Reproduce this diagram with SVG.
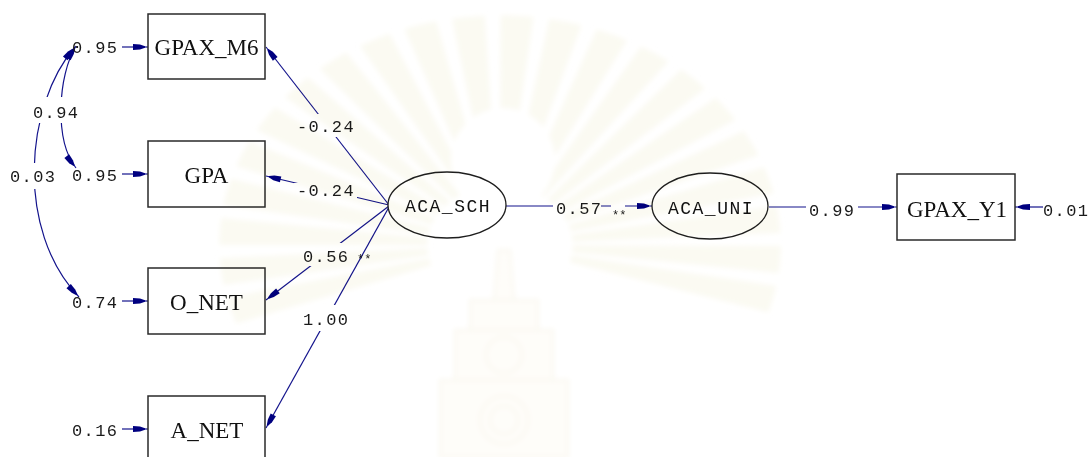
<svg xmlns="http://www.w3.org/2000/svg" width="1091" height="457" viewBox="0 0 1091 457">
  <style>
    .box { fill: #ffffff; stroke: #2a2a2a; stroke-width: 1.5; }
    .lat { fill: #ffffff; stroke: #1e1e1e; stroke-width: 1.3; }
    .obs-t { font-family: "Liberation Serif", "Times New Roman", serif; font-size: 23px; fill: #111111; text-anchor: middle; }
    .lat-t { font-family: "Liberation Mono", "Courier New", monospace; font-size: 18px; letter-spacing: 1.5px; fill: #111111; text-anchor: middle; }
    .num { font-family: "Liberation Mono", "Courier New", monospace; font-size: 17px; letter-spacing: 1.4px; fill: #1a1a1a; }
    .star { font-family: "Liberation Mono", "Courier New", monospace; font-size: 12px; fill: #1a1a1a; }
    .edge { fill: none; stroke: #13138c; stroke-width: 1.2; marker-end: url(#ah); }
    .cov { fill: none; stroke: #13138c; stroke-width: 1.2; marker-start: url(#ah); marker-end: url(#ah); }
    .bg { fill: #ffffff; }
  </style>
  <defs>
    <marker id="ah" viewBox="-16 -4 17 8" markerWidth="17" markerHeight="8" refX="0" refY="0" orient="auto-start-reverse" markerUnits="userSpaceOnUse">
      <path d="M-15,-3 L-8,-2.4 L-3,-0.7 L-3,0.7 L-8,2.4 L-15,3 Z" fill="#000080"/>
    </marker>
    <filter id="soft" filterUnits="userSpaceOnUse" x="0" y="0" width="1091" height="457">
      <feGaussianBlur stdDeviation="2.5"/>
    </filter>
  </defs>

  <rect x="0" y="0" width="1091" height="457" fill="#ffffff"/>

  <!-- connectors -->
  <g id="connectors">
    <!-- error terms -->
    <line class="edge" x1="122" y1="47" x2="148" y2="47"/>
    <line class="edge" x1="122" y1="174" x2="148" y2="174"/>
    <line class="edge" x1="122" y1="301" x2="148" y2="301"/>
    <line class="edge" x1="122" y1="429" x2="148" y2="429"/>
    <line class="edge" x1="1043" y1="207" x2="1015" y2="207"/>
    <!-- error covariances -->
    <path class="cov" d="M76,46 C58,75 54,140 76,168"/>
    <path class="cov" d="M75,47 C25,105 15,230 79,297"/>
    <!-- loadings of ACA_SCH -->
    <line class="edge" x1="389" y1="205" x2="266" y2="47"/>
    <line class="edge" x1="389" y1="205" x2="266" y2="176"/>
    <line class="edge" x1="389" y1="206" x2="266" y2="300"/>
    <line class="edge" x1="389" y1="207" x2="266" y2="428"/>
    <!-- structural paths -->
    <line class="edge" x1="506" y1="206" x2="652" y2="206"/>
    <line class="edge" x1="769" y1="207" x2="897" y2="207"/>

    <!-- path coefficients -->
    <rect class="bg" x="294" y="114" width="62" height="23"/>
    <text class="num" x="297" y="132">-0.24</text>
    <rect class="bg" x="294" y="183" width="63" height="15"/>
    <text class="num" x="297" y="196">-0.24</text>
    <rect class="bg" x="302" y="243" width="50" height="23"/>
    <text class="num" x="303" y="262">0.56</text>
    <text class="star" x="357" y="263">**</text>
    <rect class="bg" x="302" y="305" width="50" height="26"/>
    <text class="num" x="303" y="325">1.00</text>
    <rect class="bg" x="553" y="199" width="48" height="17"/>
    <text class="num" x="556" y="214">0.57</text>
    <rect class="bg" x="611" y="203" width="14" height="14"/>
    <text class="star" x="612" y="219">**</text>
    <rect class="bg" x="806" y="199" width="52" height="19"/>
    <text class="num" x="809" y="216">0.99</text>
    <rect class="bg" x="31" y="97" width="48" height="26"/>
    <text class="num" x="33" y="118">0.94</text>
    <rect class="bg" x="8" y="163" width="48" height="26"/>
    <text class="num" x="10" y="182">0.03</text>

    <!-- error variances -->
    <text class="num" x="72" y="53">0.95</text>
    <text class="num" x="72" y="181">0.95</text>
    <text class="num" x="72" y="308">0.74</text>
    <text class="num" x="72" y="436">0.16</text>
    <text class="num" x="1043" y="216">0.01</text>
  </g>

  <!-- observed variables -->
  <g id="GPAX_M6">
    <rect class="box" x="148" y="14" width="117" height="65"/>
    <text class="obs-t" x="206.5" y="55">GPAX_M6</text>
  </g>
  <g id="GPA">
    <rect class="box" x="148" y="141" width="117" height="66"/>
    <text class="obs-t" x="206.5" y="183">GPA</text>
  </g>
  <g id="O_NET">
    <rect class="box" x="148" y="268" width="117" height="66"/>
    <text class="obs-t" x="206.5" y="310">O_NET</text>
  </g>
  <g id="A_NET">
    <rect class="box" x="148" y="396" width="117" height="66"/>
    <text class="obs-t" x="207" y="438">A_NET</text>
  </g>
  <g id="GPAX_Y1">
    <rect class="box" x="897" y="174" width="118" height="66"/>
    <text class="obs-t" x="957" y="217">GPAX_Y1</text>
  </g>

  <!-- latent variables -->
  <g id="ACA_SCH">
    <ellipse class="lat" cx="447" cy="205" rx="59" ry="33"/>
    <text class="lat-t" x="448" y="212">ACA_SCH</text>
  </g>
  <g id="ACA_UNI">
    <ellipse class="lat" cx="710" cy="206" rx="58" ry="33"/>
    <text class="lat-t" x="711" y="214">ACA_UNI</text>
  </g>

  <!-- faint emblem printed over the page -->
  <g id="watermark" style="mix-blend-mode: multiply" filter="url(#soft)">
    <path d="M-159.7,58.1 A170,170 0 1,1 159.7,58.1" transform="translate(500,245) scale(1.04,0.85)"
          fill="none" stroke="#fbfaf2" stroke-width="200" stroke-dasharray="20 9.7"/>
    <circle cx="503" cy="160" r="52" fill="#ffffff"/>
    <g fill="#fefdf9" stroke="#f9f7ee" stroke-width="2">
      <path d="M498,250 L510,250 L514,300 L494,300 Z"/>
      <rect x="470" y="300" width="68" height="30"/>
      <rect x="455" y="330" width="98" height="50"/>
      <rect x="440" y="380" width="128" height="77"/>
      <circle cx="504" cy="355" r="18"/>
      <circle cx="504" cy="420" r="24"/>
      <circle cx="504" cy="420" r="14"/>
    </g>
  </g>
</svg>
